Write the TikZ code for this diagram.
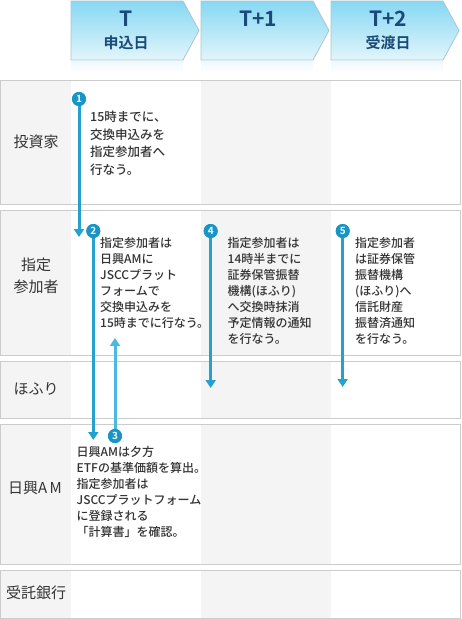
\documentclass[tikz,border=0pt]{standalone}
\usepackage{fontspec}
\setmainfont{Noto Sans CJK JP}[UprightFont={* Medium},BoldFont={* Bold}]
\newfontfamily\lblfont{Noto Sans CJK JP}
\usetikzlibrary{arrows.meta,positioning}
\definecolor{frameg}{HTML}{CCCCCC}
\definecolor{paleg}{HTML}{F4F4F4}
\definecolor{txt}{HTML}{333333}
\definecolor{hdrtxt}{HTML}{1A4A78}
\definecolor{hdrtop}{HTML}{86D8F3}
\definecolor{hdrbot}{HTML}{E2F5FB}
\definecolor{hdrline}{HTML}{A8C6D2}
\definecolor{numblue}{HTML}{1795C5}
\definecolor{flowblue}{HTML}{25A1CF}
\definecolor{flowpale}{HTML}{4DB8DF}

\begin{document}
\begin{tikzpicture}[x=1pt,y=-1pt,
    daybox/.style={draw=hdrline, line width=0.8pt, top color=hdrtop, bottom color=hdrbot},
    rowbox/.style={draw=frameg, line width=1pt},
    lbl/.style={text=txt, align=center, inner sep=0pt, font=\lblfont\fontsize{15}{22}\selectfont},
    hdr/.style={text=hdrtxt, inner sep=0pt, font=\fontsize{15}{15}\selectfont\bfseries},
    memo/.style={anchor=north west, inner sep=0pt, align=left, text=txt, font=\fontsize{12}{16}\selectfont},
    num/.style={circle, fill=numblue, text=white, inner sep=0pt, minimum size=14pt, font=\fontsize{10}{10}\selectfont\bfseries},
    flow/.style={draw=flowblue, line width=3pt, -{Triangle[width=10pt,length=8pt]}}
  ]
  \useasboundingbox (0,0) rectangle (461,619);
  % day headers
  \foreach \x in {71,201,331} {
    \fill[top color=hdrbot!60, bottom color=white] (\x,61) rectangle (\x+112,73);
    \draw[daybox] (\x,1) -- (\x+112,1) -- (\x+128,30.5) -- (\x+112,60) -- (\x,60) -- cycle;
  }
  \node[hdr, font=\fontsize{21}{21}\selectfont\bfseries] (dT) at (126,19) {T};
  \node[hdr] (dTd) at (126,43) {申込日};
  \node[hdr, font=\fontsize{21}{21}\selectfont\bfseries] (dTa) at (258,19) {T+1};
  \node[hdr, font=\fontsize{21}{21}\selectfont\bfseries] (dTb) at (388,19) {T+2};
  \node[hdr] (dTbd) at (388,43) {受渡日};
  % rows
  \foreach \ya/\yb in {80/204, 210/355, 361/418, 424/564, 570/618} {
    \fill[paleg] (0,\ya) rectangle (71,\yb);
    \fill[paleg] (201,\ya) rectangle (331,\yb);
    \draw[rowbox] (0.5,\ya) rectangle (460.5,\yb);
  }
  \node[lbl] (investor) at (36,142) {投資家};
  \node[lbl] (agent) at (36,276) {指定\\参加者};
  \node[lbl] (hofuri) at (36,389) {ほふり};
  \node[lbl] (nikko) at (35,488) {日興A\,M};
  \node[lbl] (bank) at (36,593) {受託銀行};
  % memos
  \node[memo, font=\fontsize{12.5}{17.5}\selectfont] (m1) at (90,111) {15時までに、\\交換申込みを\\指定参加者へ\\行なう。};
  \node[memo] (m2) at (100,237) {指定参加者は\\日興AMに\\JSCCプラット\\フォームで\\交換申込みを\\15時までに行なう。};
  \node[memo] (m4) at (227.5,237) {指定参加者は\\14時半までに\\証券保管振替\\機構(ほふり)\\へ交換時抹消\\予定情報の通知\\を行なう。};
  \node[memo] (m5) at (355,237) {指定参加者\\は証券保管\\振替機構\\(ほふり)へ\\信託財産\\振替済通知\\を行なう。};
  \node[memo] (m3) at (76.5,446) {日興AMは夕方\\ETFの基準価額を算出。\\指定参加者は\\JSCCプラットフォーム\\に登録される\\「計算書」を確認。};
  % steps
  \coordinate (e1) at (79,237);
  \coordinate (e2) at (93.3,440);
  \coordinate (e3) at (115,338);
  \coordinate (e4) at (210.7,388);
  \coordinate (e5) at (342.7,387);
  \node[num] (n1) at (79,99) {};
  \node[num] (n2) at (93.3,231) {};
  \node[num] (n3) at (115,436) {};
  \node[num] (n4) at (210.7,231) {};
  \node[num] (n5) at (342.7,231) {};
  \draw[flow] (n1) -- (e1);
  \draw[flow] (n2) -- (e2);
  \draw[flow, draw=flowpale] (n3) -- (e3);
  \draw[flow] (n4) -- (e4);
  \draw[flow] (n5) -- (e5);
  \foreach \s/\t in {n1/1,n2/2,n3/3,n4/4,n5/5} \node[num] at (\s) {\t};
\end{tikzpicture}
\end{document}
